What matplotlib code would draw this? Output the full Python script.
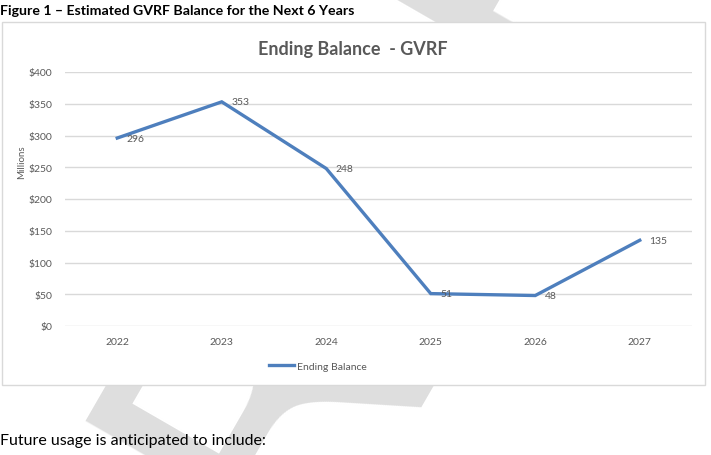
import matplotlib
matplotlib.use("Agg")
from matplotlib import pyplot as plt
from matplotlib.patches import Rectangle

years = ["2022", "2023", "2024", "2025", "2026", "2027"]
balance = [296, 353, 248, 51, 48, 135]
y_ticks = [0, 50, 100, 150, 200, 250, 300, 350, 400]
y_tick_labels = ["$" + str(v) for v in y_ticks]

W, H = 711, 456
plt.rcParams["font.family"] = ["Lato", "DejaVu Sans"]
grey = "#595959"
blue = "#4e7fbd"

fig = plt.figure(figsize=(W / 100, H / 100), dpi=100)

# page watermark, mostly hidden behind the white chart box
fig.text(370 / W, 1 - 215 / H, "DRAFT", rotation=60, rotation_mode="anchor",
         fontsize=280, color="#dedede", ha="center", va="center",
         family="DejaVu Sans", zorder=0)

# chart box
box = Rectangle((2 / W, 1 - 386 / H), 703 / W, 363 / H, transform=fig.transFigure,
                facecolor="white", edgecolor="#d9d9d9", linewidth=1, zorder=0.5)
fig.patches.append(box)

fig.text(0.0, 1 - 11 / H, "Figure 1 \u2013 Estimated GVRF Balance for the Next 6 Years",
         fontsize=10.2, fontweight="bold", ha="left", va="center", zorder=3)
fig.text(0.0, 1 - 441 / H, "Future usage is anticipated to include:",
         fontsize=11.5, ha="left", va="center", zorder=3)

ax = fig.add_axes([65 / W, 1 - 327 / H, 627 / W, 254 / H])
ax.set_zorder(2)
ax.patch.set_alpha(0)
x = list(range(len(years)))
ax.plot(x, balance, color=blue, linewidth=2.4, label="Ending Balance", solid_joinstyle="miter")
for xi, v in zip(x, balance):
    ax.annotate(str(v), (xi, v), xytext=(7, 0), textcoords="offset points",
                ha="left", va="center", fontsize=7.5, color=grey)

ax.set_xlim(-0.5, len(years) - 0.5)
ax.set_ylim(0, 400)
ax.set_xticks(x)
ax.set_xticklabels(years)
ax.set_yticks(y_ticks)
ax.set_yticklabels(y_tick_labels)
ax.tick_params(axis="both", length=0, labelsize=7.5, labelcolor=grey)
ax.tick_params(axis="y", pad=9)
ax.tick_params(axis="x", pad=8)
ax.grid(axis="y", color="#d9d9d9", linewidth=1)
ax.set_axisbelow(True)
for s in ax.spines.values():
    s.set_visible(False)

fig.text(353 / W, 1 - 50 / H, "Ending Balance  - GVRF", fontsize=13, fontweight="bold",
         color=grey, ha="center", va="center", zorder=3)
fig.text(22 / W, 1 - 162 / H, "Millions", rotation=90, fontsize=7, color=grey,
         ha="center", va="center", zorder=3)

ax.legend(loc="center", bbox_to_anchor=(318 / W, 1 - 367 / H), bbox_transform=fig.transFigure,
          frameon=False, fontsize=7.5, handlelength=2.4, handletextpad=0.3, labelcolor=grey)

fig.savefig("out.png", dpi=100)
